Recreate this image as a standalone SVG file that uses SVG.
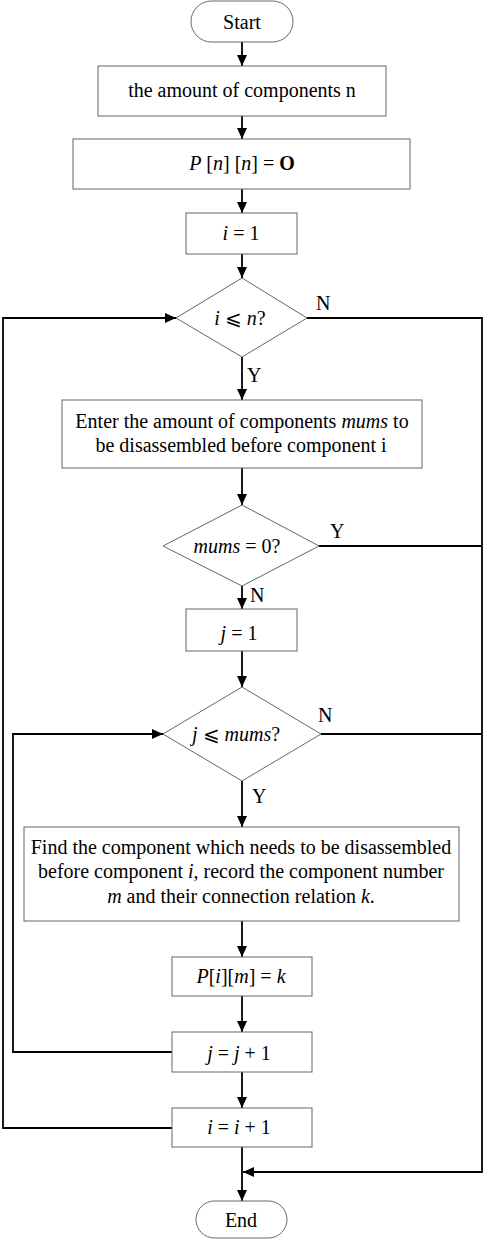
<svg xmlns="http://www.w3.org/2000/svg" width="484" height="1240" viewBox="0 0 484 1240">
<style>
.box{fill:#fff;stroke:#666;stroke-width:1}
.c{fill:none;stroke:#000;stroke-width:1.8}
text{font-family:"Liberation Serif","Times New Roman",serif;font-size:20px;fill:#000}
.m{text-anchor:middle}
.i{font-style:italic}
.b{font-weight:bold}
</style>
<defs>
<marker id="ah" markerUnits="userSpaceOnUse" markerWidth="12" markerHeight="10" refX="11" refY="5" orient="auto">
<path d="M0,0 L11,5 L0,10 Z" fill="#000"/>
</marker>
</defs>
<rect width="484" height="1240" fill="#fff"/>
<g id="connectors">
<path class="c" d="M242 42 V66" marker-end="url(#ah)"/>
<path class="c" d="M242 116 V139" marker-end="url(#ah)"/>
<path class="c" d="M242 189 V213" marker-end="url(#ah)"/>
<path class="c" d="M242 254 V278" marker-end="url(#ah)"/>
<path class="c" d="M242 357 V400" marker-end="url(#ah)"/>
<path class="c" d="M242 468 V505" marker-end="url(#ah)"/>
<path class="c" d="M242 586 V609" marker-end="url(#ah)"/>
<path class="c" d="M242 651 V687" marker-end="url(#ah)"/>
<path class="c" d="M242 781 V827" marker-end="url(#ah)"/>
<path class="c" d="M242 921 V957" marker-end="url(#ah)"/>
<path class="c" d="M242 996 V1032" marker-end="url(#ah)"/>
<path class="c" d="M242 1072 V1108" marker-end="url(#ah)"/>
<path class="c" d="M242 1147 V1201" marker-end="url(#ah)"/>
<path class="c" d="M307 318 H482 V1172 H243" marker-end="url(#ah)"/>
<path class="c" d="M319 546 H482"/>
<path class="c" d="M321 734 H482"/>
<path class="c" d="M172 1052 H13 V734 H163" marker-end="url(#ah)"/>
<path class="c" d="M172 1128 H3 V318 H176" marker-end="url(#ah)"/>
<text x="316" y="310">N</text>
<text x="247" y="382">Y</text>
<text x="330" y="538">Y</text>
<text x="250" y="602">N</text>
<text x="318" y="722">N</text>
<text x="252" y="803">Y</text>
</g>
<g id="start">
<rect class="box" x="191" y="1" width="102" height="41" rx="20.5"/>
<text class="m" x="242" y="29">Start</text>
</g>
<g id="amount">
<rect class="box" x="98" y="66" width="288" height="50"/>
<text class="m" x="242" y="97">the amount of components n</text>
</g>
<g id="init-p">
<rect class="box" x="73" y="139" width="337" height="50"/>
<text class="m" x="242" y="170"><tspan class="i">P</tspan> [<tspan class="i">n</tspan>] [<tspan class="i">n</tspan>] = <tspan class="b">O</tspan></text>
</g>
<g id="init-i">
<rect class="box" x="186" y="213" width="111" height="41"/>
<text class="m" x="241" y="240"><tspan class="i">i</tspan> = 1</text>
</g>
<g id="cond-i">
<polygon class="box" points="242,278 307,318 242,357 176,318"/>
<text class="m" x="240" y="325"><tspan class="i">i</tspan> ⩽ <tspan class="i">n</tspan>?</text>
</g>
<g id="enter-mums">
<rect class="box" x="62" y="400" width="360" height="68"/>
<text class="m" x="242" y="428">Enter the amount of components <tspan class="i">mums</tspan> to</text>
<text class="m" x="241" y="452">be disassembled before component i</text>
</g>
<g id="cond-mums">
<polygon class="box" points="242,505 319,546 242,586 163,546"/>
<text class="m" x="237" y="553"><tspan class="i">mums</tspan> = 0?</text>
</g>
<g id="init-j">
<rect class="box" x="186" y="609" width="111" height="42"/>
<text class="m" x="239" y="640"><tspan class="i">j</tspan> = 1</text>
</g>
<g id="cond-j">
<polygon class="box" points="242,687 321,734 242,781 163,734"/>
<text class="m" x="236" y="741"><tspan class="i">j</tspan> ⩽ <tspan class="i">mums</tspan>?</text>
</g>
<g id="find">
<rect class="box" x="24" y="827" width="435" height="94"/>
<text class="m" x="241" y="854">Find the component which needs to be disassembled</text>
<text class="m" x="241" y="878">before component <tspan class="i">i</tspan>, record the component number</text>
<text class="m" x="241" y="903"><tspan class="i">m</tspan> and their connection relation <tspan class="i">k</tspan>.</text>
</g>
<g id="assign-p">
<rect class="box" x="172" y="957" width="140" height="39"/>
<text class="m" x="241" y="983"><tspan class="i">P</tspan>[<tspan class="i">i</tspan>][<tspan class="i">m</tspan>] = <tspan class="i">k</tspan></text>
</g>
<g id="inc-j">
<rect class="box" x="172" y="1032" width="140" height="40"/>
<text class="m" x="239" y="1060"><tspan class="i">j</tspan> = <tspan class="i">j</tspan> + 1</text>
</g>
<g id="inc-i">
<rect class="box" x="172" y="1108" width="140" height="39"/>
<text class="m" x="239" y="1134"><tspan class="i">i</tspan> = <tspan class="i">i</tspan> + 1</text>
</g>
<g id="end">
<rect class="box" x="196" y="1201" width="91" height="37" rx="18.5"/>
<text class="m" x="241" y="1227">End</text>
</g>
</svg>
